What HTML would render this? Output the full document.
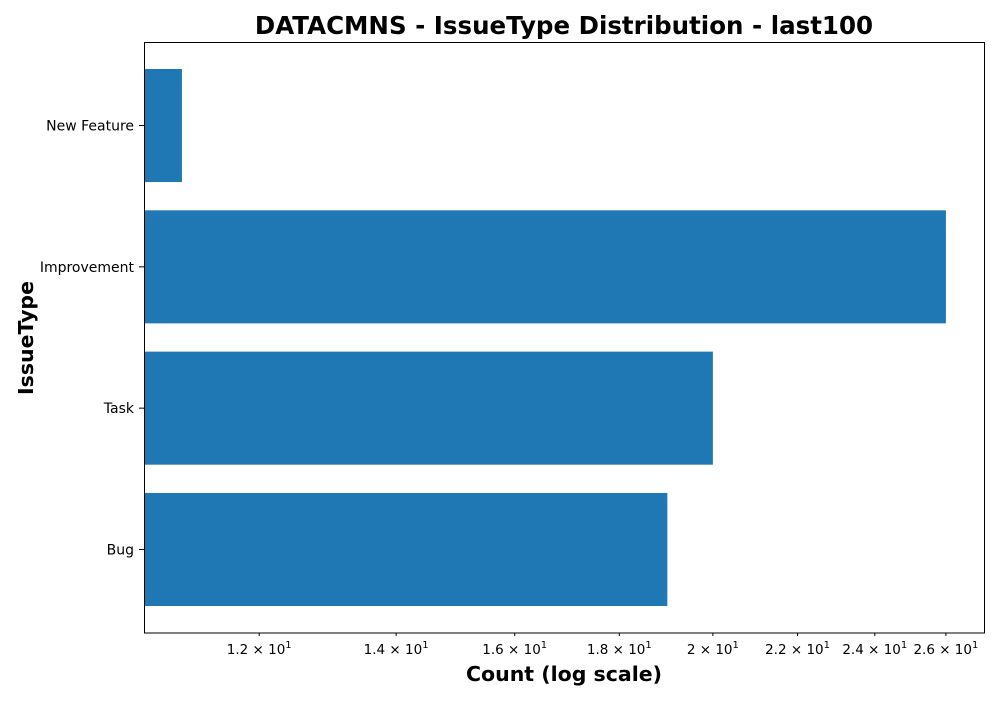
<!DOCTYPE html>
<html><head><meta charset="utf-8"><style>
body{margin:0;background:#fff;}
svg{font-family:"DejaVu Sans","Liberation Sans",sans-serif;}
</style></head><body>
<svg id="chart" width="1000" height="700">
<text x="564" y="34" text-anchor="middle" font-size="24.5" font-weight="bold">DATACMNS - IssueType Distribution - last100</text>
<text x="564" y="681" text-anchor="middle" font-size="20.5" font-weight="bold">Count (log scale)</text>
<text transform="translate(33,338) rotate(-90)" text-anchor="middle" font-size="20.5" font-weight="bold">IssueType</text>
<g id="bars"></g>
<g id="ticks"></g>
<rect x="144.5" y="42.5" width="840" height="590.5" fill="none" stroke="#000" stroke-width="1"/>
</svg>
<script>
const categories = ["Bug", "Task", "Improvement", "New Feature"];
const counts = [19, 20, 26, 11];
const tickValues = [12, 14, 16, 18, 20, 22, 24, 26];
const tickMantissas = ["1.2", "1.4", "1.6", "1.8", "2", "2.2", "2.4", "2.6"];

const NS = "http://www.w3.org/2000/svg";
const L = 144, R = 985, T = 42, B = 633;
const xmin = 10.54, xmax = 27.17;
function xScale(v){ return L + (Math.log10(v) - Math.log10(xmin)) / (Math.log10(xmax) - Math.log10(xmin)) * (R - L); }
const margin = 27;
const step = (B - T - 2 * margin) / (categories.length - 1 + 0.8);
function yCenter(i){ return B - margin - step * (i + 0.4); }
const bars = document.getElementById('bars');
const ticks = document.getElementById('ticks');
categories.forEach((c, i) => {
  const r = document.createElementNS(NS, 'rect');
  const bh = step * 0.8;
  r.setAttribute('x', L);
  r.setAttribute('y', yCenter(i) - bh / 2);
  r.setAttribute('width', Math.max(0, xScale(counts[i]) - L));
  r.setAttribute('height', bh);
  r.setAttribute('fill', '#1f77b4');
  
  
  bars.appendChild(r);
  const tk = document.createElementNS(NS, 'line');
  tk.setAttribute('x1', L - 5); tk.setAttribute('x2', L);
  tk.setAttribute('y1', yCenter(i)); tk.setAttribute('y2', yCenter(i));
  tk.setAttribute('stroke', '#000');
  
  
  ticks.appendChild(tk);
  const t = document.createElementNS(NS, 'text');
  t.setAttribute('x', L - 10); t.setAttribute('y', yCenter(i) + 5);
  t.setAttribute('text-anchor', 'end'); t.setAttribute('font-size', '14');
  t.textContent = c;
  
  
  ticks.appendChild(t);
});
tickValues.forEach((v, i) => {
  const x = xScale(v);
  const tk = document.createElementNS(NS, 'line');
  tk.setAttribute('x1', x); tk.setAttribute('x2', x);
  tk.setAttribute('y1', B); tk.setAttribute('y2', B + 3);
  tk.setAttribute('stroke', '#000');
  
  
  ticks.appendChild(tk);
  const t = document.createElementNS(NS, 'text');
  t.setAttribute('x', x); t.setAttribute('y', B + 21);
  t.setAttribute('text-anchor', 'middle'); t.setAttribute('font-size', '13.5');
  t.innerHTML = tickMantissas[i] + ' \u00d7 10<tspan dy="-6" font-size="10">1</tspan>';
  
  
  ticks.appendChild(t);
});
</script>
</body></html>
